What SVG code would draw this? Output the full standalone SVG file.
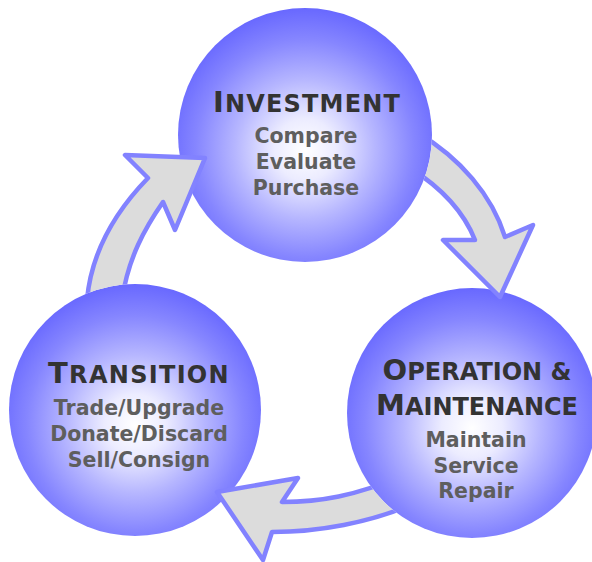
<svg xmlns="http://www.w3.org/2000/svg" width="592" height="562" viewBox="0 0 592 562">
<style>
.circ{stroke:none}
.arrow{fill:#dcdcdc;stroke:#8282ff;stroke-width:4.5;stroke-linejoin:round}
.title{font-family:"DejaVu Sans",Verdana,sans-serif;font-weight:bold;fill:#333333;text-anchor:middle}
.sub{font-family:"DejaVu Sans",Verdana,sans-serif;font-weight:bold;fill:#5e5e5e;font-size:20.5px;text-anchor:middle}
.big{font-size:29px}
.sm{font-size:24px}
</style>
<defs>
<radialGradient id="g" cx="0.5" cy="0.55" r="0.55" fx="0.5" fy="0.56">
<stop offset="0" stop-color="#ffffff"/>
<stop offset="0.22" stop-color="#ececff"/>
<stop offset="0.5" stop-color="#b6b6ff"/>
<stop offset="0.78" stop-color="#8686ff"/>
<stop offset="1" stop-color="#6868ff"/>
</radialGradient>
<mask id="mL" maskUnits="userSpaceOnUse" x="0" y="0" width="592" height="562">
<rect x="0" y="0" width="592" height="562" fill="#fff"/>
<circle cx="135" cy="410" r="126" fill="#000"/>
</mask>
<mask id="mR" maskUnits="userSpaceOnUse" x="0" y="0" width="592" height="562">
<rect x="0" y="0" width="592" height="562" fill="#fff"/>
<circle cx="305" cy="135" r="127" fill="#000"/>
</mask>
<mask id="mB" maskUnits="userSpaceOnUse" x="0" y="0" width="592" height="562">
<rect x="0" y="0" width="592" height="562" fill="#fff"/>
<circle cx="472" cy="413" r="125" fill="#000"/>
</mask>
</defs>
<g id="investment">
<circle class="circ" cx="305" cy="135" r="127" fill="url(#g)"/>
<text class="title" x="307" y="112" letter-spacing="1.2"><tspan class="big" font-size="30">I</tspan><tspan class="sm">NVESTMENT</tspan></text>
<text class="sub" x="306" y="143">Compare</text>
<text class="sub" x="306" y="169">Evaluate</text>
<text class="sub" x="306" y="195">Purchase</text>
</g>
<g id="transition">
<circle class="circ" cx="135" cy="410" r="126" fill="url(#g)"/>
<text class="title" x="139" y="383" letter-spacing="1.3"><tspan class="big">T</tspan><tspan class="sm">RANSITION</tspan></text>
<text class="sub" x="139" y="415">Trade/Upgrade</text>
<text class="sub" x="139" y="441">Donate/Discard</text>
<text class="sub" x="139" y="467">Sell/Consign</text>
</g>
<g id="operation">
<circle class="circ" cx="472" cy="413" r="125" fill="url(#g)"/>
<text class="title" x="477" y="380"><tspan class="big">O</tspan><tspan class="sm">PERATION &amp;</tspan></text>
<text class="title" x="477" y="415"><tspan class="big">M</tspan><tspan class="sm">AINTENANCE</tspan></text>
<text class="sub" x="476" y="447">Maintain</text>
<text class="sub" x="476" y="473">Service</text>
<text class="sub" x="476" y="498">Repair</text>
</g>
<g id="connectors">
<path class="arrow" mask="url(#mL)" d="M205,158 L175,230 L163,202 C145,228 128,258 122,300 L87,300 C91,255 112,215 148,178 L125,155 Z"/>
<path class="arrow" mask="url(#mR)" d="M500,297 L443,240 L475,240 C465,215 445,190 410,168 L418,133 C460,158 492,195 505,237 L533,225 Z"/>
<path class="arrow" mask="url(#mB)" d="M217,492 L298,478 L282,502 C320,502 355,496 402,476 L408,506 C370,522 320,532 272,532 L263,560 Z"/>
</g>
</svg>
